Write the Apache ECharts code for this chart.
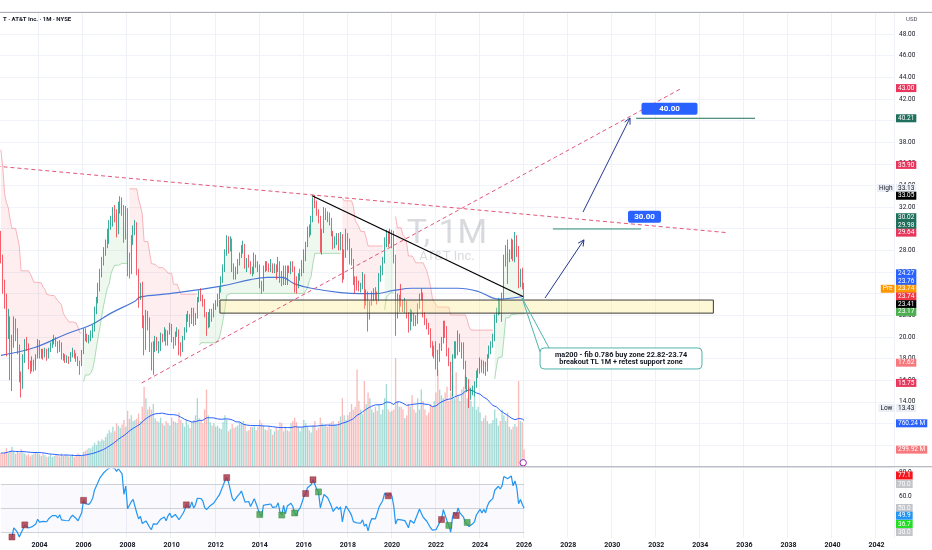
<!DOCTYPE html>
<html><head><meta charset="utf-8">
<script src="https://cdn.jsdelivr.net/npm/echarts@6.0.0/dist/echarts.min.js"></script>
<style>html,body{margin:0;padding:0;background:#fff;}#chart{width:932px;height:550px;}</style>
</head><body><div id="chart"></div>
<script>
// ---------------- DATA (monthly, Apr 2002 .. Jan 2026) ----------------
const titleText = 'T · AT&T Inc. · 1M · NYSE';
const firstOpen = 29.5;
const closes = [
 27.0,24.5,23.5,20.5,21.5,16.5,19.5,21.3,20.3,
 19.0,16.2,15.5,18.0,19.4,19.2,17.4,17.0,17.6,17.1,18.1,19.5,
 18.2,18.5,18.4,18.7,18.1,18.8,19.2,19.5,19.9,19.4,18.8,19.4,
 18.1,18.2,17.9,18.0,17.8,18.3,18.6,18.3,18.0,17.6,17.4,18.5,
 20.5,20.0,19.8,19.9,20.3,20.9,22.5,23.4,24.6,25.9,26.8,27.9,
 28.6,29.5,30.3,30.6,31.6,31.3,31.0,32.2,32.6,32.0,29.4,31.8,
 27.0,26.5,29.0,29.8,30.4,26.0,23.8,24.5,21.5,20.6,21.8,21.5,
 19.0,17.9,19.3,19.6,19.0,19.1,20.1,19.9,20.5,19.4,20.4,21.0,
 19.8,19.4,20.3,20.5,18.9,18.7,19.9,20.6,21.8,21.9,21.3,22.5,
 21.3,22.0,23.5,24.0,23.6,23.2,22.0,21.6,21.7,22.3,22.0,22.8,
 23.0,23.8,24.3,25.3,26.4,27.9,29.0,28.4,28.9,26.4,25.9,26.0,
 27.0,27.5,28.2,28.4,26.6,27.0,26.8,26.0,26.1,27.4,26.7,26.6,
 24.8,24.4,26.3,26.6,26.5,26.3,26.6,26.1,26.4,26.2,26.8,25.5,
 25.0,26.4,25.0,26.3,26.2,26.8,26.3,25.2,24.7,25.5,25.9,26.8,
 27.9,28.6,30.0,29.8,31.0,32.6,32.4,31.4,31.0,28.3,29.8,31.6,
 31.3,31.0,30.9,29.5,28.4,28.9,29.3,28.8,29.3,25.9,27.9,29.3,
 28.9,27.9,27.0,25.2,25.0,24.8,24.6,24.7,25.2,23.6,23.9,21.9,
 23.1,23.9,24.1,23.8,23.5,25.8,26.2,27.2,29.0,29.5,28.8,29.4,
 29.0,27.2,22.4,23.4,23.6,23.2,22.8,22.9,22.0,20.8,22.1,22.0,
 21.3,21.5,22.9,23.8,24.0,22.0,21.5,21.0,20.6,19.3,18.6,18.8,
 18.5,18.0,19.2,19.6,21.2,20.9,18.8,17.6,15.4,18.2,19.3,18.4,
 20.2,18.9,19.2,17.6,15.9,15.9,14.5,14.7,15.0,15.4,16.6,16.8,
 17.7,16.9,17.6,16.9,18.2,19.1,19.3,19.9,22.0,22.5,23.2,22.8,
 23.8,27.4,28.3,27.7,27.7,28.9,27.4,29.3,28.2,24.7,26.0,24.8,
 23.74
];
const highs = [
 29.8,27.6,25.3,24.0,22.6,21.9,20.2,21.9,21.7,
 20.8,19.3,16.8,18.4,19.8,20.0,19.4,17.8,18.2,17.9,18.4,19.8,
 19.7,18.9,18.9,19.0,18.9,19.0,19.5,19.8,20.2,20.0,19.6,19.7,
 19.5,18.5,18.4,18.3,18.2,18.6,19.0,18.8,18.5,18.2,17.8,18.8,
 20.8,20.8,20.3,20.2,20.6,21.1,22.8,23.7,25.0,26.3,27.4,28.3,
 29.0,30.0,30.8,31.2,32.0,32.2,31.8,32.5,33.0,32.9,32.2,32.1,
 31.9,27.8,29.4,30.3,30.8,30.6,26.3,25.0,25.1,22.0,22.5,22.4,
 21.8,19.5,19.6,20.1,20.0,19.6,20.4,20.3,20.9,20.7,20.6,21.3,
 21.2,20.0,20.5,20.9,20.7,19.5,20.1,20.9,22.1,22.4,22.1,22.7,
 22.7,22.2,23.7,24.3,24.5,23.9,23.5,22.3,22.3,22.6,22.6,23.1,
 23.4,24.0,24.6,25.6,26.7,28.1,29.4,29.3,29.3,29.1,26.8,26.5,
 27.2,27.8,28.5,28.9,28.6,27.3,27.6,27.0,26.5,27.8,27.6,27.0,
 26.7,25.2,26.6,27.0,27.0,26.8,27.2,26.8,26.8,26.7,27.4,27.0,
 26.1,26.6,26.6,26.6,26.6,27.0,27.0,26.5,25.6,25.9,26.3,27.1,
 28.1,28.8,30.2,30.4,31.2,32.9,33.13,32.6,31.8,31.2,30.0,32.0,
 31.9,31.6,31.5,31.0,29.8,29.3,29.6,29.6,29.7,29.5,28.1,30.0,
 29.6,29.1,28.2,27.2,25.6,25.6,25.2,25.0,26.0,25.8,24.4,24.2,
 23.3,24.2,24.5,24.6,24.2,25.9,26.6,27.4,29.2,29.9,29.8,30.0,
 29.9,29.8,27.6,24.0,23.9,24.9,23.4,23.6,23.3,22.3,22.6,22.5,
 22.2,22.0,23.1,24.0,24.5,24.1,22.3,21.7,21.3,20.8,19.6,19.2,
 19.6,18.8,19.4,20.0,21.5,21.5,21.0,19.0,17.7,18.4,19.6,19.6,
 20.6,20.3,19.5,19.5,17.8,16.3,16.1,15.3,15.5,15.9,16.9,17.1,
 18.1,17.9,17.8,17.7,18.4,19.2,19.6,20.3,22.1,22.7,23.6,23.4,
 24.1,27.6,28.5,29.0,28.1,29.1,29.0,29.7,29.4,28.4,26.3,26.4,
 25.0
];
const lows = [
 26.8,24.0,22.6,18.2,19.8,16.0,15.0,19.0,19.6,
 18.4,15.8,14.4,15.2,17.6,18.7,17.0,16.6,16.8,16.8,16.9,18.0,
 18.0,18.0,17.9,18.1,17.8,18.0,18.6,19.0,19.3,19.1,18.5,18.6,
 17.9,17.8,17.6,17.6,17.5,17.7,18.1,18.0,17.7,17.3,16.5,17.3,
 18.4,19.6,19.5,19.4,19.6,19.9,20.5,22.1,23.1,24.2,25.5,26.6,
 27.5,28.2,28.6,29.9,30.2,30.6,29.2,29.5,31.4,31.2,28.7,29.0,
 25.6,25.4,25.8,28.5,29.4,25.7,22.7,23.4,20.8,18.3,18.8,20.6,
 18.6,16.9,16.5,18.6,18.7,18.5,18.7,19.5,19.6,19.2,19.2,20.2,
 19.5,18.9,19.2,20.0,18.3,18.2,18.6,19.7,20.4,21.4,20.9,21.2,
 21.0,21.1,21.7,23.2,23.3,22.8,21.8,20.1,20.8,20.9,21.4,21.8,
 22.5,22.8,23.5,24.1,25.0,26.0,27.5,27.7,27.9,26.0,25.3,25.3,
 25.8,26.6,27.3,27.7,26.3,26.0,26.4,25.8,25.6,25.8,26.4,26.0,
 24.5,24.0,24.2,26.0,26.1,26.0,26.0,25.9,25.9,25.3,26.0,25.0,
 24.7,24.8,24.8,24.8,25.9,25.8,26.0,24.1,24.0,24.5,25.2,25.6,
 25.9,27.0,28.3,29.2,29.4,30.6,31.9,31.2,30.5,27.8,27.6,29.6,
 30.8,30.6,30.3,29.3,28.1,28.2,28.5,28.0,28.0,25.0,25.3,27.3,
 28.0,26.7,26.6,24.8,24.0,24.3,24.2,24.1,24.4,22.6,22.9,20.5,
 21.6,22.9,23.3,23.4,23.0,23.3,25.1,25.7,26.8,28.3,28.3,28.6,
 28.2,26.8,20.1,21.7,22.3,22.8,22.3,22.2,21.7,20.4,20.6,21.4,
 21.0,21.0,21.2,22.6,23.4,21.8,21.1,20.7,20.2,19.0,18.2,18.0,
 17.0,16.4,17.7,18.7,19.4,19.9,18.2,17.3,15.0,14.5,18.0,18.0,
 18.3,18.6,18.0,17.0,15.2,14.9,13.43,14.2,14.6,14.5,15.3,16.2,
 16.6,16.7,16.6,16.4,16.8,18.0,18.4,19.0,19.6,21.3,22.0,22.1,
 21.4,23.5,26.5,24.9,26.9,27.2,27.0,26.9,27.4,24.5,24.6,24.4,
 23.5
];
const volumesM = [
 240,220,260,330,240,280,350,260,230,
 260,240,310,250,230,200,220,180,210,230,260,240,
 220,190,230,200,170,180,210,170,190,210,200,180,
 230,190,210,200,180,190,220,170,200,230,210,190,
 260,280,300,330,320,360,420,380,460,440,480,460,
 520,580,640,600,700,620,760,720,680,740,820,700,
 980,840,900,800,820,840,930,800,1050,1400,1200,1000,
 1050,1000,1100,850,800,780,860,760,720,800,760,720,
 860,800,780,760,950,820,760,700,820,740,680,780,
 820,900,1200,850,800,760,1000,1350,900,780,720,760,
 700,720,680,660,780,900,820,620,660,750,680,700,
 720,780,760,800,750,620,640,700,690,720,640,700,
 820,760,720,650,640,700,660,560,620,700,640,780,
 760,620,700,640,620,760,800,860,780,700,620,700,
 820,760,700,640,600,720,800,640,680,860,760,720,
 740,700,760,780,800,740,720,800,880,1200,900,820,
 900,960,1100,1000,1050,1700,1150,1000,920,1500,1100,1300,
 1200,1000,950,1050,980,1100,920,1000,1200,1450,1000,960,
 980,1000,1900,1150,1050,1050,1000,850,900,1100,1050,1250,
 1000,950,1200,1000,1350,1150,1000,900,950,1100,1050,1150,
 1300,1700,1350,1250,1200,1300,1400,1150,1300,1600,1200,1650,
 1250,1150,1350,1400,1600,1200,1400,1150,1050,1250,1000,1050,
 950,800,850,900,800,750,760,820,1000,850,720,800,
 1000,900,800,950,700,650,700,750,700,1500,800,780,
 300
];
// long moving average (at sample months)
const ma200Idx = [0,18,36,49,60,73,76,92,120,136,145,153,160,169,185,196,204,214,224,249,260,271,285];
const ma200Val = [18.3,19.0,20.3,21.1,22.2,23.3,23.7,24.0,24.7,25.3,25.5,25.5,24.9,24.5,24.1,24.0,24.0,24.3,24.5,24.5,24.2,23.5,23.76];
// RSI signal squares (month indices)
const rsiSellIdx = [6,13,45,101,123,166,170,211,240,248];
const rsiBuyIdx = [141,153,160,173,244,254];
// price axis tick labels range
const priceLabelMin = 12, priceLabelMax = 48;
const calloutLines = ['ma200 - fib 0.786 buy zone 22.82-23.74', 'breakout TL 1M + retest support zone'];

// ---------------- BUILD ----------------
const FONT = 'Roboto, "Liberation Sans", Arial, sans-serif';
const N = closes.length;
const TOTAL = 487;
const cats = [];
for (let k = 0; k < TOTAL; k++) { const m = 3 + k; cats.push((2002 + Math.floor(m / 12)) + '-' + String(m % 12 + 1).padStart(2, '0')); }
const isYearTick = (i, v) => typeof v === 'string' && v.endsWith('-01') && (+v.slice(0, 4)) % 2 === 0;

const opens = closes.map((c, i) => i === 0 ? firstOpen : closes[i - 1]);
const hi = closes.map((c, i) => Math.max(highs[i], opens[i], c));
const lo = closes.map((c, i) => Math.min(lows[i], opens[i], c));
const candleData = closes.map((c, i) => [opens[i], c, lo[i], hi[i]]);
const volData = volumesM.slice(0, N).map((v, i) => ({ value: v, itemStyle: { color: closes[i] >= opens[i] ? 'rgba(38,166,154,0.42)' : 'rgba(239,83,80,0.40)' } }));
const volMA = volumesM.slice(0, N).map((v, i) => { const s = Math.max(0, i - 19); let sum = 0; for (let k = s; k <= i; k++) sum += volumesM[k]; return +(sum / (i - s + 1)).toFixed(1); });

// Supertrend (ATR 10, x3)
const stDir = [], stUp = [], stLo = [];
(function () {
  const P = 10, M = 3; let atr = 0, fu = 0, fl = 0, d = -1;
  for (let i = 0; i < N; i++) {
    const tr = i === 0 ? hi[i] - lo[i] : Math.max(hi[i] - lo[i], Math.abs(hi[i] - closes[i - 1]), Math.abs(lo[i] - closes[i - 1]));
    atr = i < P ? (atr * i + tr) / (i + 1) : (atr * (P - 1) + tr) / P;
    const hl2 = (hi[i] + lo[i]) / 2, bu = hl2 + M * atr, bl = hl2 - M * atr;
    if (i === 0) { fu = bu; fl = bl; }
    else {
      fu = (bu < fu || closes[i - 1] > fu) ? bu : fu;
      fl = (bl > fl || closes[i - 1] < fl) ? bl : fl;
    }
    if (d === -1 && closes[i] > fu) d = 1; else if (d === 1 && closes[i] < fl) d = -1;
    stDir.push(d); stUp.push(fu); stLo.push(fl);
  }
})();
const mid = closes.map((c, i) => (c + opens[i]) / 2);
const pinkBase = [], pinkDiff = [], greenBase = [], greenDiff = [], pinkLine = [], greenLine = [];
for (let i = 0; i < N; i++) {
  if (stDir[i] === -1) {
    pinkBase.push(+mid[i].toFixed(3)); pinkDiff.push(+Math.max(0, stUp[i] - mid[i]).toFixed(3)); pinkLine.push(+stUp[i].toFixed(3));
    greenBase.push(null); greenDiff.push(null); greenLine.push(null);
  } else {
    greenBase.push(+stLo[i].toFixed(3)); greenDiff.push(+Math.max(0, mid[i] - stLo[i]).toFixed(3)); greenLine.push(+stLo[i].toFixed(3));
    pinkBase.push(null); pinkDiff.push(null); pinkLine.push(null);
  }
}
// RSI 14 (Wilder)
const rsi = [null];
(function () {
  let ag = 0, al = 0; const P = 14;
  for (let i = 1; i < N; i++) {
    const ch = closes[i] - closes[i - 1], g = Math.max(ch, 0), l = Math.max(-ch, 0);
    if (i <= P) { ag = (ag * (i - 1) + g) / i; al = (al * (i - 1) + l) / i; }
    else { ag = (ag * (P - 1) + g) / P; al = (al * (P - 1) + l) / P; }
    rsi.push(+(al === 0 ? 100 : 100 - 100 / (1 + ag / al)).toFixed(2));
  }
})();

const chart = echarts.init(document.getElementById('chart'), null, { renderer: 'canvas' });
const G0 = { left: 0, right: 38, top: 12.36, height: 454.4 };
const G1 = { left: 0, right: 38, top: 469, height: 69 };
const splitX = { show: true, interval: isYearTick, lineStyle: { color: '#eef1f6', width: 1 } };

const option = {
  animation: false,
  backgroundColor: '#ffffff',
  grid: [G0, G1],
  xAxis: [
    { type: 'category', data: cats, gridIndex: 0, axisLine: { show: false }, axisTick: { show: false }, axisLabel: { show: false }, splitLine: splitX },
    { type: 'category', data: cats, gridIndex: 1, axisLine: { show: false }, axisTick: { show: false }, splitLine: splitX,
      axisLabel: { show: true, interval: isYearTick, formatter: v => v.slice(0, 4), fontSize: 7, fontWeight: 'bold', color: '#131722', margin: 4, fontFamily: FONT } }
  ],
  yAxis: [
    { type: 'value', gridIndex: 0, position: 'right', min: 8, max: 50, interval: 2, axisLine: { show: false }, axisTick: { show: false },
      splitLine: { lineStyle: { color: '#f0f3fa' } },
      axisLabel: { fontSize: 6.5, color: '#131722', margin: 5, fontFamily: FONT, formatter: v => (v < priceLabelMin || v > priceLabelMax) ? '' : v.toFixed(2) } },
    { type: 'value', gridIndex: 0, min: 0, max: 454.4 * 17.5, show: false, splitLine: { show: false } },
    { type: 'value', gridIndex: 1, position: 'right', min: 25, max: 82.5, axisLabel: { show: false }, axisLine: { show: false }, axisTick: { show: false }, splitLine: { show: false } }
  ],
  series: [
    { type: 'bar', xAxisIndex: 0, yAxisIndex: 1, data: volData, barWidth: '72%', z: 1, silent: true },
    { type: 'line', xAxisIndex: 0, yAxisIndex: 1, data: volMA, symbol: 'none', lineStyle: { color: '#2962ff', width: 1 }, z: 2, silent: true },
    { type: 'line', stack: 'stp', data: pinkBase, symbol: 'none', lineStyle: { opacity: 0 }, z: 2, silent: true },
    { type: 'line', stack: 'stp', data: pinkDiff, symbol: 'none', lineStyle: { opacity: 0 }, areaStyle: { color: 'rgba(242,54,69,0.12)' }, z: 2, silent: true },
    { type: 'line', stack: 'stg', data: greenBase, symbol: 'none', lineStyle: { opacity: 0 }, z: 2, silent: true },
    { type: 'line', stack: 'stg', data: greenDiff, symbol: 'none', lineStyle: { opacity: 0 }, areaStyle: { color: 'rgba(76,175,80,0.13)' }, z: 2, silent: true },
    { type: 'line', data: pinkLine, symbol: 'none', lineStyle: { color: '#f5a3a9', width: 0.8 }, z: 3, silent: true },
    { type: 'line', data: greenLine, symbol: 'none', lineStyle: { color: '#98d3a2', width: 0.8 }, z: 3, silent: true },
    { type: 'line', data: ma200Idx.map((x, k) => [x, ma200Val[k]]), smooth: 0.4, symbol: 'none', lineStyle: { color: '#4a78d8', width: 1.2 }, z: 4, silent: true },
    { type: 'candlestick', data: candleData, barWidth: '70%', z: 5, silent: true,
      itemStyle: { color: '#089981', color0: '#f23645', borderColor: '#089981', borderColor0: '#f23645', borderWidth: 0.8 } },
    { type: 'line', xAxisIndex: 1, yAxisIndex: 2, data: rsi, symbol: 'none', lineStyle: { color: '#2196f3', width: 1.2 }, z: 5, silent: true,
      markLine: { silent: true, symbol: 'none', label: { show: false }, lineStyle: { color: '#c3c6ce', type: 'solid', width: 0.8 },
        data: [[{ coord: [0, 70] }, { coord: [N - 1, 70] }], [{ coord: [0, 50] }, { coord: [N - 1, 50] }], [{ coord: [0, 30] }, { coord: [N - 1, 30] }]] },
      markArea: { silent: true, itemStyle: { color: 'rgba(126,87,194,0.035)' }, data: [[{ coord: [0, 30] }, { coord: [N - 1, 70] }]] } },
    { type: 'scatter', xAxisIndex: 1, yAxisIndex: 2, data: rsiSellIdx.map(i => [i, rsi[i]]), symbol: 'rect', symbolSize: 6, itemStyle: { color: '#a8303e', borderColor: '#7a1d29', borderWidth: 0.5 }, z: 6, silent: true },
    { type: 'scatter', xAxisIndex: 1, yAxisIndex: 2, data: rsiBuyIdx.map(i => [i, rsi[i]]), symbol: 'rect', symbolSize: 6, itemStyle: { color: '#43a047', borderColor: '#2e7d32', borderWidth: 0.5 }, z: 6, silent: true }
  ]
};
chart.setOption(option);

// ---------------- annotations & axis tags ----------------
const X0 = chart.convertToPixel({ xAxisIndex: 0 }, 0), X1 = chart.convertToPixel({ xAxisIndex: 0 }, 400);
const px = i => X0 + i * (X1 - X0) / 400;
const py = v => chart.convertToPixel({ yAxisIndex: 0 }, v);
const pv = v => chart.convertToPixel({ yAxisIndex: 1 }, v);
const pr = v => chart.convertToPixel({ yAxisIndex: 2 }, v);
const W = 932, AX = 932 - 38;
const g = [];
const line = (x1, y1, x2, y2, stroke, w, dash, z) => g.push({ type: 'line', silent: true, z: z || 10, shape: { x1, y1, x2, y2 }, style: { stroke, lineWidth: w, lineDash: dash || null } });
const text = (x, y, t, font, fill, align, z, extra) => g.push({ type: 'text', silent: true, z: z || 10, x, y, style: Object.assign({ text: t, font, fill, align: align || 'left', verticalAlign: 'middle', textAlign: align || 'left', textVerticalAlign: 'middle' }, extra || {}) });

// frame lines
line(0, 12.4, W, 12.4, '#a3a6af', 1, null, 30);
line(0, G0.top + G0.height, W, G0.top + G0.height, '#a3a6af', 1, null, 30);
text(3, 19, titleText, 'bold 6px ' + FONT, '#131722');
text(906, 19, 'USD', '6px ' + FONT, '#50535e');
// watermark
g.push({ type: 'text', silent: true, z: 0, x: 447, y: py(29.5), style: { text: 'T, 1M', font: '34px ' + FONT, fill: 'rgba(120,123,134,0.28)', align: 'center', verticalAlign: 'middle', textAlign: 'center', textVerticalAlign: 'middle' } });
g.push({ type: 'text', silent: true, z: 0, x: 447, y: py(27.4), style: { text: 'AT&T Inc.', font: '13px ' + FONT, fill: 'rgba(120,123,134,0.28)', align: 'center', verticalAlign: 'middle', textAlign: 'center', textVerticalAlign: 'middle' } });

// drawings (in data coordinates: month index, price)
const drawTrend = [[169.5, 33.05], [284.4, 23.74]];
const drawDashDown = [[-10, 35.90], [395.5, 29.64]];
const drawDashUp = [[76.7, 15.75], [371.0, 43.00]];
const zone = { x1: 119.3, x2: 388.1, top: 23.41, bottom: 22.20 };
const level30 = { x1: 300.7, x2: 348.7, p: 29.98 };
const level40 = { x1: 346.0, x2: 410.8, p: 40.21 };
const label30 = { x: 350.6, p: 31.10, t: '30.00', w: 33 };
const label40 = { x: 364.2, p: 41.10, t: '40.00', w: 56 };
const arrows = [[[296.4, 23.60], [317.6, 28.97]], [[317.1, 31.55], [342.7, 40.24]]];
const callout = { anchor: [283.9, 23.60], left: 293.7, right: 381.9, top: 18.98, bottom: 17.04, tips: [[293.7, 18.61], [298.6, 18.98]] };

g.push({ type: 'rect', silent: true, z: 9, shape: { x: px(zone.x1), y: py(zone.top), width: px(zone.x2) - px(zone.x1), height: py(zone.bottom) - py(zone.top) }, style: { fill: 'rgba(255,236,140,0.35)', stroke: '#3a3a3a', lineWidth: 1 } });
line(px(drawDashDown[0][0]), py(drawDashDown[0][1]), px(drawDashDown[1][0]), py(drawDashDown[1][1]), '#e2567a', 1, [4, 3]);
line(px(drawDashUp[0][0]), py(drawDashUp[0][1]), px(drawDashUp[1][0]), py(drawDashUp[1][1]), '#e2567a', 1, [4, 3]);
line(px(drawTrend[0][0]), py(drawTrend[0][1]), px(drawTrend[1][0]), py(drawTrend[1][1]), '#000000', 1.3);
line(px(level30.x1), py(level30.p), px(level30.x2), py(level30.p), '#2a8a74', 1);
line(px(level40.x1), py(level40.p), px(level40.x2), py(level40.p), '#1e6f5c', 1);
[label30, label40].forEach(L => {
  const cx = px(L.x), cy = py(L.p);
  g.push({ type: 'rect', silent: true, z: 11, shape: { x: cx - L.w / 2, y: cy - 6, width: L.w, height: 12, r: 2 }, style: { fill: '#2962ff' } });
  text(cx, cy + 0.5, L.t, 'bold 8px ' + FONT, '#ffffff', 'center', 12);
});
arrows.forEach(A => {
  const x1 = px(A[0][0]), y1 = py(A[0][1]), x2 = px(A[1][0]), y2 = py(A[1][1]);
  line(x1, y1, x2, y2, '#23368f', 1);
  const L = Math.hypot(x2 - x1, y2 - y1), dx = (x2 - x1) / L, dy = (y2 - y1) / L;
  g.push({ type: 'polyline', silent: true, z: 10, shape: { points: [[x2 - 6 * dx - 3 * dy, y2 - 6 * dy + 3 * dx], [x2, y2], [x2 - 6 * dx + 3 * dy, y2 - 6 * dy - 3 * dx]] }, style: { stroke: '#23368f', lineWidth: 1, fill: null } });
});
{
  const ax = px(callout.anchor[0]), ay = py(callout.anchor[1]);
  g.push({ type: 'polyline', silent: true, z: 10, shape: { points: [[px(callout.tips[0][0]), py(callout.tips[0][1])], [ax, ay], [px(callout.tips[1][0]), py(callout.tips[1][1])]] }, style: { stroke: '#4fb3ad', lineWidth: 1, fill: null } });
  const l = px(callout.left), r = px(callout.right), t = py(callout.top), b = py(callout.bottom);
  g.push({ type: 'rect', silent: true, z: 11, shape: { x: l, y: t, width: r - l, height: b - t, r: 4 }, style: { fill: 'rgba(255,255,255,0.96)', stroke: '#4fb3ad', lineWidth: 1 } });
  text((l + r) / 2, t + (b - t) * 0.33, calloutLines[0], 'bold 7.3px ' + FONT, '#131722', 'center', 12);
  text((l + r) / 2, t + (b - t) * 0.68, calloutLines[1], 'bold 7.3px ' + FONT, '#131722', 'center', 12);
}
g.push({ type: 'circle', silent: true, z: 12, shape: { cx: px(N - 1.5), cy: G0.top + G0.height - 4, r: 3.2 }, style: { fill: '#ffffff', stroke: '#9c27b0', lineWidth: 1 } });

function stack(tags, h) {
  tags.forEach(t => t.y = t.y0);
  tags.sort((a, b) => a.y0 - b.y0);
  for (let k = 1; k < tags.length; k++) if (!tags[k].anchor) tags[k].y = Math.max(tags[k].y, tags[k - 1].y + h);
  for (let k = tags.length - 2; k >= 0; k--) if (!tags[k].anchor) tags[k].y = Math.min(tags[k].y, tags[k + 1].y - h);
}
const priceTags = [
  { y0: py(43.00), t: '43.00', bg: '#e8365d' },
  { y0: py(40.21), t: '40.21', bg: '#1e6f5c' },
  { y0: py(35.90), t: '35.90', bg: '#e8365d' },
  { y0: py(33.13), t: '33.13', bg: '#eceff5', fg: '#131722', pre: 'High', preBg: '#eceff5', preFg: '#131722' },
  { y0: py(33.05), t: '33.05', bg: '#000000', anchor: true },
  { y0: py(30.02), t: '30.02', bg: '#1e6f5c' },
  { y0: py(29.98), t: '29.98', bg: '#1e6f5c' },
  { y0: py(29.64), t: '29.64', bg: '#e8365d', anchor: true },
  { y0: py(24.27), t: '24.27', bg: '#2962ff' },
  { y0: py(23.76), t: '23.76', bg: '#2962ff' },
  { y0: py(23.74), t: '23.74', bg: '#ff9800', pre: 'Pre', preBg: '#ff9800', preFg: '#ffffff' },
  { y0: py(23.74), t: '23.74', bg: '#f23645', anchor: true },
  { y0: py(23.41), t: '23.41', bg: '#000000' },
  { y0: py(23.17), t: '23.17', bg: '#4caf50' },
  { y0: py(17.62), t: '17.62', bg: '#f7797d' },
  { y0: py(15.75), t: '15.75', bg: '#e8365d' },
  { y0: py(13.43), t: '13.43', bg: '#eceff5', fg: '#131722', pre: 'Low', preBg: '#eceff5', preFg: '#131722' },
  { y0: pv(760.24), t: '760.24 M', bg: '#2962ff' },
  { y0: pv(299.92), t: '299.92 M', bg: '#f7797d' }
];
const rsiTags = [
  { y0: pr(77.1), t: '77.1', bg: '#f5151c' },
  { y0: pr(70), t: '70.0', bg: '#c3c5cb' },
  { y0: pr(50), t: '50.0', bg: '#c3c5cb', anchor: true },
  { y0: pr(49.9), t: '49.9', bg: '#2196f3' },
  { y0: pr(36.7), t: '36.7', bg: '#22dd22' },
  { y0: pr(30), t: '30.0', bg: '#c3c5cb' }
];
stack(priceTags, 7.7); stack(rsiTags, 7.7);
text(AX + 5, pr(80), '80.0', '6.5px ' + FONT, '#131722', 'left', 15);
text(AX + 5, pr(60), '60.0', '6.5px ' + FONT, '#131722', 'left', 15);
priceTags.concat(rsiTags).forEach(T => {
  text(AX + 2, T.y, T.t, '6.5px ' + FONT, T.fg || '#ffffff', 'left', 20, { backgroundColor: T.bg, padding: [1, 2, 0.5, 2], lineHeight: 6.5 });
  if (T.pre) text(AX + 0.5, T.y, T.pre, '6.5px ' + FONT, T.preFg, 'right', 20, { backgroundColor: T.preBg, padding: [1, 2, 0.5, 2], lineHeight: 6.5 });
});
chart.setOption({ graphic: { elements: g } });
</script></body></html>
